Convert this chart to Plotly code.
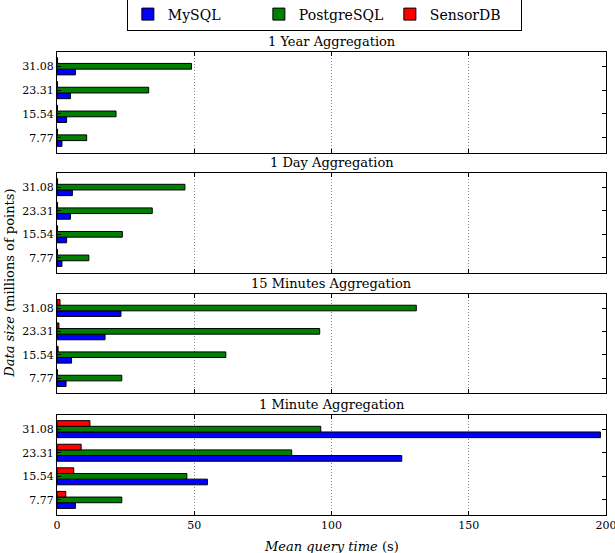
import plotly.graph_objects as go

# ---- data ----
sizes = ["7.77", "15.54", "23.31", "31.08"]
panels = ["1 Year Aggregation", "1 Day Aggregation", "15 Minutes Aggregation", "1 Minute Aggregation"]
series_names = ["MySQL", "PostgreSQL", "SensorDB"]

mysql = [
    [1.8, 3.5, 4.9, 6.7],
    [1.8, 3.5, 4.9, 5.6],
    [3.3, 5.3, 17.5, 23.3],
    [6.7, 54.8, 125.6, 198.0],
]
postgresql = [
    [10.8, 21.5, 33.4, 49.0],
    [11.6, 23.8, 34.7, 46.6],
    [23.6, 61.5, 95.7, 130.9],
    [23.6, 47.3, 85.5, 96.1],
]
sensordb = [
    [0.2, 0.2, 0.2, 0.2],
    [0.2, 0.2, 0.2, 0.2],
    [0.2, 0.4, 0.7, 1.1],
    [3.2, 6.1, 8.8, 12.0],
]
x_ticks = [0, 50, 100, 150, 200]

colors = {"MySQL": "#0000ff", "PostgreSQL": "#008000", "SensorDB": "#ff0000"}
series_data = {"MySQL": mysql, "PostgreSQL": postgresql, "SensorDB": sensordb}

FONT = "DejaVu Serif"

# panel domains (paper coords)
domains = [[0.7819, 1.0], [0.5227, 0.7387], [0.2635, 0.4773], [0.0, 0.216]]

fig = go.Figure()
for p in range(4):
    ax = "" if p == 0 else str(p + 1)
    for name in series_names:
        fig.add_trace(go.Bar(
            y=sizes, x=series_data[name][p], orientation="h", name=name,
            marker=dict(color=colors[name], line=dict(color="black", width=1)),
            xaxis="x" + ax, yaxis="y" + ax, showlegend=(p == 0),
            offsetgroup=name,
        ))

layout = dict(
    width=615, height=553,
    margin=dict(l=57, r=9, t=52, b=38, autoexpand=False),
    paper_bgcolor="white", plot_bgcolor="white",
    barmode="group", bargap=0.28, bargroupgap=0,
    font=dict(family=FONT, color="black", size=11),
    legend=dict(orientation="h", x=0.487, xanchor="center", y=1.081, yanchor="middle",
                bordercolor="black", borderwidth=1, font=dict(size=14, family=FONT),
                traceorder="normal", itemwidth=30, bgcolor="white",
                entrywidth=86, entrywidthmode="pixels"),
)
shapes = []
annotations = []
for p in range(4):
    ax = "" if p == 0 else str(p + 1)
    layout["xaxis" + ax] = dict(
        domain=[0, 1], anchor="y" + ax, range=[0, 200], tickvals=x_ticks,
        showticklabels=(p == 3), ticks="inside", ticklen=4, tickcolor="black",
        showline=True, linecolor="black", linewidth=1, mirror="ticks",
        showgrid=True, gridcolor="#8a8a8a", griddash="1px,2px", gridwidth=1,
        zeroline=False, tickfont=dict(size=11), ticklabeloverflow="allow",
        matches=None if p == 0 else "x",
    )
    layout["yaxis" + ax] = dict(
        domain=domains[p], anchor="x" + ax, type="category",
        categoryorder="array", categoryarray=sizes, range=[-0.64, 3.6],
        ticks="inside", ticklen=4, tickcolor="black",
        showline=True, linecolor="black", linewidth=1, mirror="ticks",
        showgrid=False, zeroline=False, tickfont=dict(size=11),
    )
    for s in sizes:
        shapes.append(dict(type="line", xref="x" + ax + " domain", yref="y" + ax,
                           x0=0, x1=1, y0=s, y1=s, layer="above",
                           line=dict(color="#555555", width=1, dash="1px,2px")))
    annotations.append(dict(text=panels[p], xref="paper", yref="paper", x=0.5,
                            y=domains[p][1], yanchor="bottom", xanchor="center",
                            yshift=1, showarrow=False, font=dict(size=13, family=FONT)))

annotations.append(dict(text="<i>Data size</i> (millions of points)", xref="paper", yref="paper",
                        x=-0.087, y=0.5, xanchor="center", yanchor="middle", textangle=-90,
                        showarrow=False, font=dict(size=13, family=FONT)))
annotations.append(dict(text="<i>Mean query time</i> (s)", xref="paper", yref="paper",
                        x=0.5, y=-0.067, xanchor="center", yanchor="middle",
                        showarrow=False, font=dict(size=13, family=FONT)))
layout["shapes"] = shapes
layout["annotations"] = annotations
fig.update_layout(**layout)
fig.write_html("out.html", config={"displayModeBar": False},
               post_script="document.body.style.margin='0';document.body.style.padding='0';")
